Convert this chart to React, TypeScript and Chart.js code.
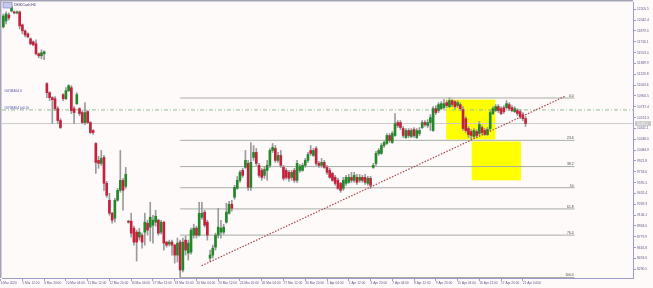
import React, { useEffect, useRef } from "react";
import { Chart, registerables } from "chart.js";
Chart.register(...registerables);

const W = 653;
const H = 288;

const opens = [11940,12030,12120,12180,12157,12150,12165,11970,11880,11835,
11760,11715,11685,11535,11505,11535,11085,10950,10875,10860,
10710,10530,10920,10860,10980,11025,10710,10785,10710,10650,
10500,10665,10500,10380,10185,9930,9885,9975,9585,9330,
9135,9060,9330,9480,9630,9540,9015,9015,8910,8850,
8775,8805,8850,8985,8925,8955,9000,9030,8850,9000,
8700,8670,8700,8655,8505,8700,8280,8730,8535,8550,
8805,8910,8805,9075,9150,9000,8460,8505,8625,8805,
8850,8850,9000,9135,9270,9375,9510,9630,9780,9825,
9885,9525,9975,10050,9855,9780,9705,9780,9855,10080,
10110,9930,10005,9825,9780,9750,9675,9780,9630,9780,
9780,9855,9930,10080,10005,10110,9885,9855,9900,9825,
9780,9735,9675,9630,9585,9510,9585,9600,9675,9630,
9675,9630,9675,9675,9585,9660,9825,9885,10035,10035,
10155,10185,10305,10200,10305,10500,10500,10410,10275,10380,
10290,10395,10275,10335,10425,10500,10455,10500,10380,10710,
10680,10710,10725,10800,10740,10830,10815,10755,10770,10695,
10560,10410,10365,10290,10365,10335,10425,10380,10320,10410,
10635,10680,10740,10710,10725,10725,10770,10725,10665,10680,
10665,10620,10560];

const highs = [12135,12165,12150,12285,12180,12180,12180,11985,11895,11850,
11775,11730,11745,11550,11595,11580,11100,10965,10890,10890,
10740,10560,10935,11025,11070,11055,10740,10950,10725,10680,
10800,10680,10515,10395,10200,9990,10080,10005,9615,9435,
9150,9360,9510,10080,9660,9825,9030,9135,8940,8880,
8910,8835,9135,9030,9300,9105,9180,9045,9030,9015,
8715,8730,8730,8670,8760,8730,8760,8790,8730,8910,
8970,8940,9300,9300,9180,9030,8580,8655,8835,9210,
9030,8970,9285,9315,9330,9555,9690,9780,9810,10080,
9930,10200,10155,10110,9885,9810,9840,9930,10110,10185,
10155,10050,10080,9855,9810,9780,9780,9810,9930,9870,
9885,9960,10050,10155,10110,10140,9915,9960,9930,9855,
9810,9750,9705,9660,9600,9675,9705,9720,9750,9750,
9720,9720,9705,9720,9690,9690,9885,10065,10110,10185,
10230,10335,10335,10365,10635,10530,10530,10440,10410,10410,
10410,10425,10410,10425,10530,10530,10545,10620,10740,10755,
10800,10815,10845,10830,10870,10845,10830,10830,10800,10740,
10590,10440,10395,10410,10395,10515,10455,10410,10425,10680,
10740,10770,10770,10740,10755,10830,10800,10755,10740,10710,
10695,10650,10590];

const lows = [11925,11985,12045,12165,12135,12135,11910,11835,11790,11775,
11670,11655,11520,11475,11460,11445,10875,10830,10485,10680,
10485,10410,10830,10845,10965,10635,10485,10770,10605,10485,
10470,10485,10335,10320,9735,9810,9855,9480,9375,9105,
8985,9000,9315,9450,9180,9510,8985,8775,8655,8415,
8730,8610,8655,8805,8715,8685,8940,8805,8820,8580,
8625,8640,8505,8385,8400,8167,8250,8505,8430,8520,
8760,8760,8790,9045,8925,8730,8415,8460,8580,8760,
8760,8820,8985,9120,9165,9345,9495,9600,9675,9810,
9480,9480,9930,9855,9675,9630,9660,9630,9825,10050,
9900,9900,9825,9630,9645,9615,9630,9600,9600,9750,
9765,9825,9900,10005,9990,9855,9825,9825,9810,9720,
9660,9615,9555,9495,9450,9480,9555,9585,9600,9600,
9570,9600,9600,9570,9555,9510,9810,9855,10005,10020,
10125,10170,10200,10185,10290,10425,10395,10275,10260,10275,
10275,10275,10260,10305,10410,10440,10425,10380,10365,10620,
10650,10695,10710,10725,10725,10740,10710,10725,10680,10380,
10350,10275,10245,10260,10275,10305,10320,10305,10305,10380,
10620,10665,10650,10620,10635,10710,10680,10665,10650,10605,
10560,10530,10440];

const closes = [12105,12135,12075,12240,12150,12165,11955,11880,11820,11790,
11685,11670,11535,11505,11550,11565,10950,10875,10845,10710,
10530,10425,10860,10980,11055,10680,10650,10920,10635,10500,
10650,10500,10350,10350,9900,9885,9960,9585,9405,9135,
9030,9330,9480,9630,9480,9720,9000,8835,8700,8700,
8850,8700,9000,8880,9075,9030,9090,8835,9000,8685,
8655,8700,8655,8505,8685,8280,8700,8580,8685,8880,
8910,8805,9135,9135,8955,8805,8505,8610,8805,8925,
8910,8925,9150,9270,9210,9525,9630,9750,9705,9930,
9525,9900,10050,9885,9705,9675,9795,9855,10080,10125,
9930,10005,9855,9660,9675,9660,9750,9630,9885,9840,
9855,9930,10020,10035,10080,9885,9855,9900,9825,9750,
9675,9630,9585,9510,9480,9630,9675,9675,9630,9705,
9600,9675,9630,9600,9660,9555,9855,10035,10080,10155,
10200,10305,10230,10335,10485,10455,10425,10305,10380,10305,
10380,10305,10380,10380,10500,10470,10500,10575,10710,10650,
10770,10785,10785,10755,10830,10770,10740,10800,10710,10410,
10380,10320,10305,10380,10305,10470,10350,10320,10395,10650,
10710,10740,10680,10635,10665,10785,10710,10680,10710,10635,
10590,10560,10485];

const timeLabels = ["4 Mar 2020","5 Mar 12:00","6 Mar 20:00","10 Mar 04:00","11 Mar 12:00","12 Mar 20:00",
"16 Mar 04:00","17 Mar 12:00","18 Mar 20:00","20 Mar 04:00","23 Mar 12:00","24 Mar 20:00","26 Mar 04:00",
"27 Mar 12:00","30 Mar 20:00","1 Apr 04:00","2 Apr 12:00","3 Apr 20:00","7 Apr 04:00","8 Apr 12:00",
"9 Apr 20:00","15 Apr 04:00","16 Apr 12:00","17 Apr 20:00","21 Apr 04:00"];
const timeTickBars = [-1,7,15,23,31,39,47,55,63,71,79,87,95,103,111,119,127,135,143,151,159,167,175,183,191];

const priceTicks = [12205.5,12042.4,11879.3,11716.1,11553.0,11389.9,11226.8,11063.6,10900.5,10737.4,
10574.3,10411.1,10248.0,10084.9,9921.8,9758.6,9595.5,9432.4,9269.3,9106.1,8943.0,8779.9,8616.8,8453.6,8290.5];

const fibLevels = [10870, 10232.1, 9837.5, 9518.5, 9199.9, 8805.3, 8167];
const fibNames = ["0.0", "23.6", "38.2", "50", "61.8", "76.4", "100.0"];
const fibSpan = [65, 210];

const trendStart = { x: 72.9, y: 8345 };
const trendEnd = { x: 206.5, y: 10895 };
const dashDotLevel = 10690;

const zoneX0 = [162.8, 172.2];
const zoneX1 = [180.9, 190.3];
const zoneTop = [10845, 10215];
const zoneBottom = [10245, 9630];

const objectNotes = ["#0708404 0", "#0708404 (x0.0)"];
const objectNoteLevels = [10980, 10720];

const BG = "#fffafa";
const AXIS = "#9c9cc4";
const TEXT = "#5a5a8c";
const BULL = "#22882a";
const BEAR = "#c4223c";
const DOJI = "#404040";
const WICK = "#9a9a9a";
const FIB = "#a6ada6";
const FONT = '"Liberation Sans", Arial, sans-serif';

export default function App() {
  const ref = useRef<HTMLCanvasElement>(null);
  useEffect(() => {
    const canvas = ref.current;
    if (!canvas) return;
    const lastClose = closes[closes.length - 1];
    const bodyData = closes.map((c, i) => ({ x: i, y: [opens[i], c] }));
    const wickData = closes.map((c, i) => ({ x: i, y: [lows[i], highs[i]] }));
    const bodyColors = closes.map((c, i) => (c > opens[i] ? BULL : c < opens[i] ? BEAR : DOJI));
    const hline = (v: number, a: number, b: number) => [{ x: a, y: v }, { x: b, y: v }];
    const lineBase = { type: "line", pointRadius: 0, borderWidth: 1, fill: false, tension: 0 };

    const deco = {
      id: "deco",
      beforeDraw(chart: any) {
        const { ctx } = chart;
        ctx.save();
        ctx.fillStyle = BG;
        ctx.fillRect(0, 0, W, H);
        ctx.restore();
      },
      beforeDatasetsDraw(chart: any) {
        const { ctx } = chart;
        const x = chart.scales.x, y = chart.scales.y;
        ctx.save();
        ctx.fillStyle = "#ffff00";
        for (let i = 0; i < zoneX0.length; i++) {
          const px0 = x.getPixelForValue(zoneX0[i]);
          const px1 = x.getPixelForValue(zoneX1[i]);
          const py0 = y.getPixelForValue(zoneTop[i]);
          const py1 = y.getPixelForValue(zoneBottom[i]);
          ctx.fillRect(px0, py0, px1 - px0, py1 - py0);
        }
        ctx.restore();
      },
      afterDraw(chart: any) {
        const { ctx, chartArea } = chart;
        const x = chart.scales.x, y = chart.scales.y;
        ctx.save();
        ctx.fillStyle = "#a4a4b8";
        ctx.fillRect(0, 0, chartArea.right, 1.5);
        ctx.fillRect(0, 0, 1.5, chartArea.bottom);
        ctx.font = `3.3px ${FONT}`;
        ctx.fillStyle = "#404040";
        ctx.textAlign = "right";
        ctx.textBaseline = "bottom";
        const fx = x.getPixelForValue(fibSpan[1]);
        fibLevels.forEach((lv, i) => {
          ctx.fillText(fibNames[i], fx - 1, y.getPixelForValue(lv) - 0.5);
        });
        ctx.fillStyle = "#c8c8ee";
        ctx.fillRect(3, 2.5, 9, 5.5);
        ctx.strokeStyle = "#7a7ab8";
        ctx.lineWidth = 0.6;
        ctx.strokeRect(3, 2.5, 9, 5.5);
        ctx.fillStyle = "#303068";
        ctx.textAlign = "left";
        ctx.textBaseline = "middle";
        ctx.font = `3.4px ${FONT}`;
        ctx.fillText("DE30Cash,H4", 14, 5.3);
        ctx.fillStyle = "#4a4aa0";
        objectNotes.forEach((t, i) => {
          ctx.fillText(t, 4, y.getPixelForValue(objectNoteLevels[i]));
        });
        const py = y.getPixelForValue(lastClose);
        ctx.fillStyle = "#c4c4c4";
        ctx.fillRect(chartArea.right + 2, py - 2.3, 16, 4.6);
        ctx.fillStyle = "#ffffff";
        ctx.font = `3.3px ${FONT}`;
        ctx.fillText(lastClose.toFixed(1), chartArea.right + 3.5, py + 0.2);
        ctx.restore();
      },
    };

    const chart = new Chart(canvas, {
      type: "bar",
      data: {
        datasets: [
          { type: "bar", data: wickData, backgroundColor: WICK, barThickness: 1, grouped: false, order: 2, minBarLength: 1 } as any,
          { type: "bar", data: bodyData, backgroundColor: bodyColors, barThickness: 2, grouped: false, order: 1, minBarLength: 1 } as any,
          ...fibLevels.map((lv) => ({ ...lineBase, data: hline(lv, fibSpan[0], fibSpan[1]), borderColor: FIB, order: 3 } as any)),
          { ...lineBase, data: hline(lastClose, -0.5, 231.5), borderColor: "#cacaca", order: 4 } as any,
          { ...lineBase, data: hline(dashDotLevel, -0.5, 231.5), borderColor: "#8fbf8f", borderDash: [4, 2, 1, 2], order: 4 } as any,
          { ...lineBase, data: [trendStart, trendEnd], borderColor: "#a84646", borderDash: [1.5, 1.5], borderWidth: 1.2, order: 0 } as any,
        ],
      },
      options: {
        responsive: false,
        animation: false,
        devicePixelRatio: 1,
        events: [],
        layout: { padding: { left: 2, top: 2, right: 0, bottom: 0 } },
        plugins: { legend: { display: false }, tooltip: { enabled: false } },
        scales: {
          x: {
            type: "linear",
            min: -0.5,
            max: 231.5,
            offset: false,
            afterBuildTicks: (axis: any) => {
              axis.ticks = timeTickBars.map((v) => ({ value: v }));
            },
            afterFit: (axis: any) => {
              axis.height = 10;
            },
            grid: { drawOnChartArea: false, drawTicks: true, tickLength: 3, color: AXIS, offset: false },
            border: { display: true, color: AXIS, width: 1 },
            ticks: {
              autoSkip: false,
              maxRotation: 0,
              minRotation: 0,
              align: "start",
              padding: 0,
              color: TEXT,
              font: { size: 3.2, family: FONT },
              callback: (_v: any, i: number) => timeLabels[i],
            },
          },
          y: {
            type: "linear",
            position: "right",
            min: 8160,
            max: 12300,
            afterBuildTicks: (axis: any) => {
              axis.ticks = priceTicks.map((v) => ({ value: v }));
            },
            afterFit: (axis: any) => {
              axis.width = 20;
            },
            grid: { drawOnChartArea: false, drawTicks: true, tickLength: 3, color: AXIS },
            border: { display: true, color: AXIS, width: 1 },
            ticks: {
              autoSkip: false,
              padding: 1,
              color: TEXT,
              font: { size: 3.3, family: FONT },
              callback: (v: any) => Number(v).toFixed(1),
            },
          },
        },
      } as any,
      plugins: [deco],
    });
    return () => chart.destroy();
  }, []);

  return (
    <div style={{ position: "fixed", left: 0, top: 0, width: W, height: H, background: BG }}>
      <canvas ref={ref} width={W} height={H} style={{ width: W, height: H, display: "block" }} />
    </div>
  );
}
